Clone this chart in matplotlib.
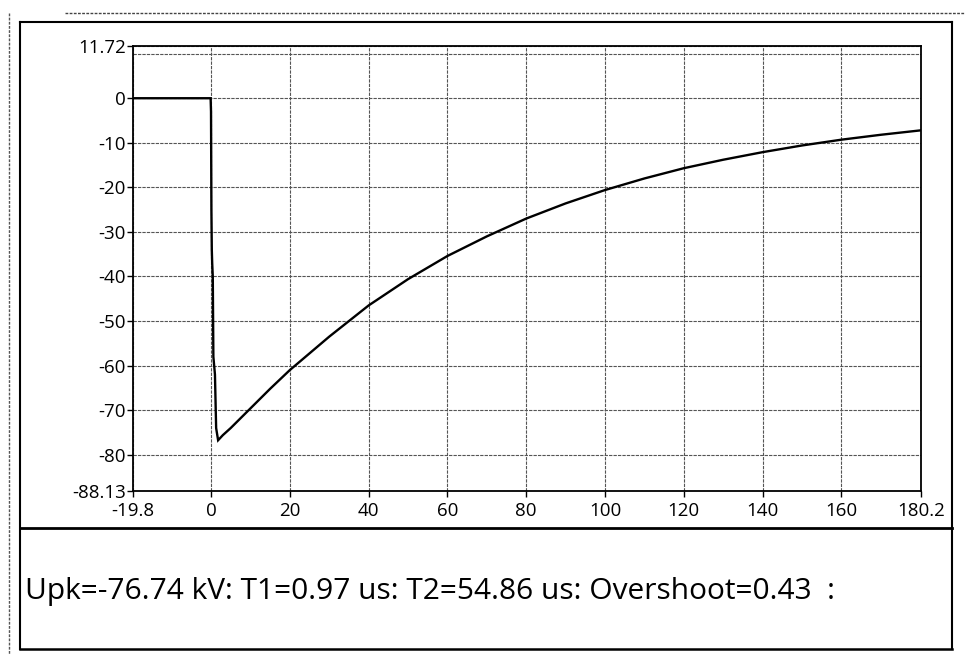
import matplotlib
matplotlib.use("Agg")
import matplotlib.pyplot as plt
from matplotlib.lines import Line2D

# ---- data ----
time_us = [-19.8, -0.1, 0.0, 0.1, 0.2, 0.3, 0.45, 0.6, 0.8, 1.0, 1.3, 1.8, 3.0, 5.0,
           10, 15, 20, 30, 40, 50, 60, 70, 80, 90, 100, 110, 120, 130, 140,
           150, 160, 170, 180.2]
voltage_kv = [0.0, 0.0, -3.0, -25.0, -34.0, -37.0, -40.0, -58.0, -60.0, -62.0, -74.0, -76.74, -75.6, -74.0,
              -69.6, -65.2, -61.0, -53.5, -46.5, -40.6, -35.4, -31.0, -27.0, -23.6, -20.6, -18.0, -15.7,
              -13.8, -12.1, -10.6, -9.3, -8.2, -7.2]

x_ticks = [-19.8, 0, 20, 40, 60, 80, 100, 120, 140, 160, 180.2]
x_tick_labels = ["-19.8", "0", "20", "40", "60", "80", "100", "120", "140", "160", "180.2"]
y_ticks = [11.72, 0, -10, -20, -30, -40, -50, -60, -70, -80, -88.13]
y_tick_labels = ["11.72", "0", "-10", "-20", "-30", "-40", "-50", "-60", "-70", "-80", "-88.13"]
y_extra_grid = [10]

summary = "Upk=-76.74 kV: T1=0.97 us: T2=54.86 us: Overshoot=0.43  :"

W, H = 965, 655
fig = plt.figure(figsize=(W / 100, H / 100), dpi=100)
fig.patch.set_facecolor("white")
plt.rcParams['font.family'] = ['Open Sans', 'DejaVu Sans']

def fx(px):
    return px / W

def fy(py):
    return 1 - py / H

left, right, top, bottom = 133, 921, 46, 491
ax = fig.add_axes([fx(left), fy(bottom), fx(right) - fx(left), fy(top) - fy(bottom)])

ax.plot(time_us, voltage_kv, color="black", lw=1.7, solid_joinstyle="miter")
ax.set_xlim(x_ticks[0], x_ticks[-1])
ax.set_ylim(y_ticks[-1], y_ticks[0])

ax.set_xticks(x_ticks)
ax.set_xticklabels(x_tick_labels)
ax.set_yticks(y_ticks)
ax.set_yticklabels(y_tick_labels)
ax.set_yticks(y_extra_grid, minor=True)
ax.tick_params(axis="both", which="major", direction="out", length=4, width=1,
               labelsize=13.5, color="black")
ax.tick_params(axis="x", which="major", pad=4)
ax.tick_params(axis="y", which="major", pad=1)
ax.tick_params(axis="y", which="minor", length=0)
ax.grid(True, which="both", color="#555555", lw=0.8, linestyle=(0, (3, 1)))
ax.set_axisbelow(True)
for s in ax.spines.values():
    s.set_color("black")
    s.set_linewidth(1.3)

# frame lines
def hline(y, x0, x1, **kw):
    fig.add_artist(Line2D([fx(x0), fx(x1)], [fy(y), fy(y)], transform=fig.transFigure, **kw))

def vline(x, y0, y1, **kw):
    fig.add_artist(Line2D([fx(x), fx(x)], [fy(y0), fy(y1)], transform=fig.transFigure, **kw))

hline(13, 65, 965, color="#444444", lw=1.0, linestyle=(0, (2, 1)))
vline(9, 13, 655, color="#555555", lw=1.0, linestyle=(0, (2, 1)))
hline(22, 20, 952, color="black", lw=1.5)
vline(20, 22, 649, color="black", lw=1.5)
vline(952, 22, 649, color="black", lw=1.5)
hline(528, 20, 952, color="black", lw=2.0)
hline(649, 20, 952, color="black", lw=1.8)

fig.text(fx(25), fy(591), summary, fontsize=21.5, va="center", ha="left", color="black")

fig.savefig("out.png", dpi=100)
